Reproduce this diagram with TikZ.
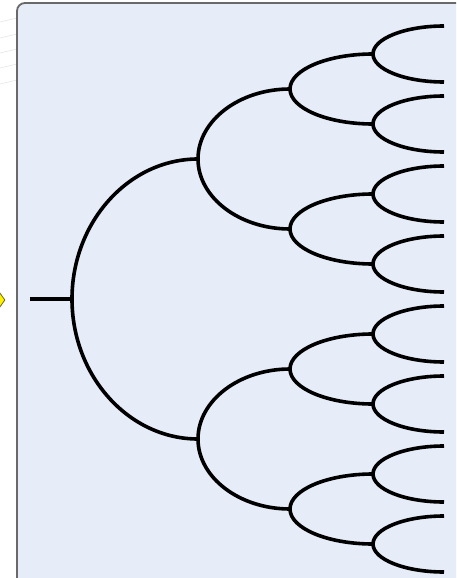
\documentclass[tikz,border=0pt]{standalone}
\usetikzlibrary{calc,shapes.geometric}
\definecolor{panelfill}{RGB}{230,237,248}
\definecolor{panelline}{RGB}{105,105,105}

\begin{document}
\begin{tikzpicture}[
    x=1pt, y=-1pt,
    panel/.style={draw=panelline, line width=1.8pt, fill=panelfill, rounded corners=8pt},
    faint/.style={draw=gray!18, line width=0.7pt},
    marker/.style={diamond, draw=olive!70!black, fill=yellow, line width=0.8pt,
                   minimum width=10pt, minimum height=14pt, inner sep=0pt},
    stem/.style={line width=3.6pt},
    branch/.style={line width=3.6pt, line join=round,
      to path={.. controls ($(\tikztostart)!0.55!(\tikztostart|-\tikztotarget)$)
                       and ($(\tikztotarget)!0.55!(\tikztostart|-\tikztotarget)$) .. (\tikztotarget)}}
  ]
  \useasboundingbox (0,0) rectangle (456,578);
  \clip (0,0) rectangle (456,578);

  % --- background and panel ---
  \draw[faint] (0,22) -- (17,18);
  \draw[faint] (0,38) -- (17,34);
  \draw[faint] (0,53) -- (17,49);
  \draw[faint] (0,68) -- (17,64);
  \draw[faint] (0,84) -- (17,80);
  \draw[panel] (17,3) rectangle (464,600);
  \node[marker] (mk) at (0,300) {};

  % --- root and first split ---
  \coordinate (s) at (30,299);
  \coordinate (r) at (72,299);
  \coordinate (a1) at (198,159);
  \coordinate (a2) at (198,439);

  % --- second split ---
  \coordinate (b1) at (290,89);
  \coordinate (b2) at (290,229);
  \coordinate (b3) at (290,369);
  \coordinate (b4) at (290,509);

  % --- third split ---
  \coordinate (c1) at (373,54);
  \coordinate (c2) at (373,124);
  \coordinate (c3) at (373,194);
  \coordinate (c4) at (373,264);
  \coordinate (c5) at (373,334);
  \coordinate (c6) at (373,404);
  \coordinate (c7) at (373,474);
  \coordinate (c8) at (373,544);

  % --- leaves ---
  \coordinate (d1) at (444,26);
  \coordinate (d2) at (444,82);
  \coordinate (d3) at (444,96);
  \coordinate (d4) at (444,152);
  \coordinate (d5) at (444,166);
  \coordinate (d6) at (444,222);
  \coordinate (d7) at (444,236);
  \coordinate (d8) at (444,292);
  \coordinate (d9) at (444,306);
  \coordinate (d10) at (444,362);
  \coordinate (d11) at (444,376);
  \coordinate (d12) at (444,432);
  \coordinate (d13) at (444,446);
  \coordinate (d14) at (444,502);
  \coordinate (d15) at (444,516);
  \coordinate (d16) at (444,572);

  % Branches
  \draw[stem] (s) -- (r);
  \draw[branch] (r) to (a1) (r) to (a2);
  \draw[branch] (a1) to (b1) (a1) to (b2);
  \draw[branch] (a2) to (b3) (a2) to (b4);
  \draw[branch] (b1) to (c1) (b1) to (c2);
  \draw[branch] (b2) to (c3) (b2) to (c4);
  \draw[branch] (b3) to (c5) (b3) to (c6);
  \draw[branch] (b4) to (c7) (b4) to (c8);
  \draw[branch] (c1) to (d1) (c1) to (d2);
  \draw[branch] (c2) to (d3) (c2) to (d4);
  \draw[branch] (c3) to (d5) (c3) to (d6);
  \draw[branch] (c4) to (d7) (c4) to (d8);
  \draw[branch] (c5) to (d9) (c5) to (d10);
  \draw[branch] (c6) to (d11) (c6) to (d12);
  \draw[branch] (c7) to (d13) (c7) to (d14);
  \draw[branch] (c8) to (d15) (c8) to (d16);
\end{tikzpicture}
\end{document}
